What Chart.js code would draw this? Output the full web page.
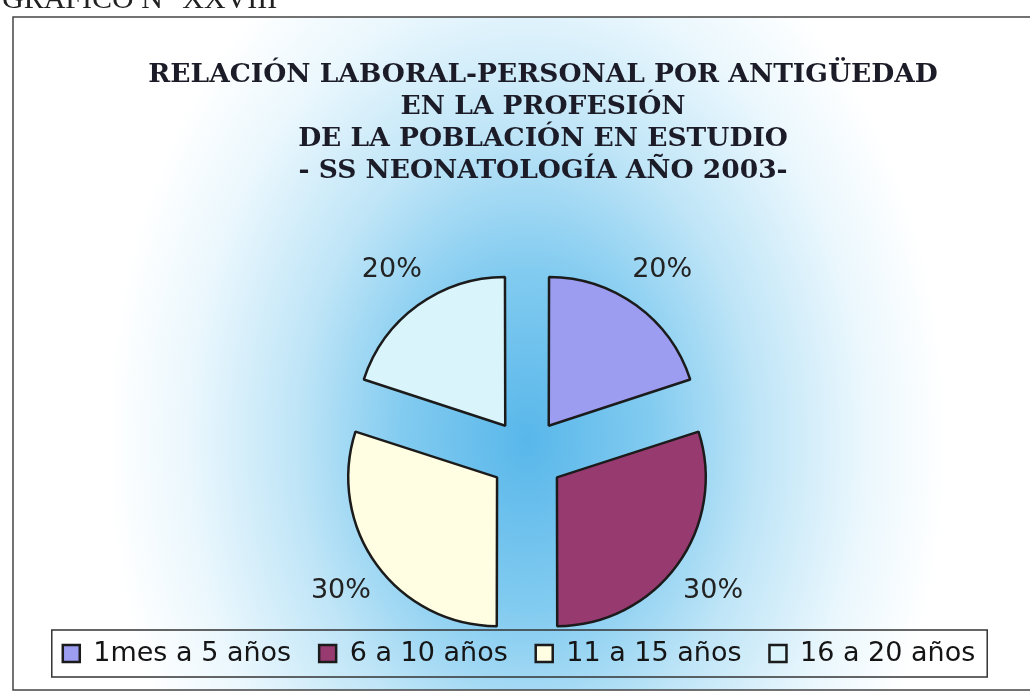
<!DOCTYPE html>
<html lang="es">
<head>
    <meta charset="UTF-8">
    <title>Relación laboral-personal por antigüedad</title>
    <script src="https://cdn.jsdelivr.net/npm/chart.js"></script>
    <style>
        body { margin: 0; background: #fff; }
        #pie-chart { display: block; }
    </style>
</head>
<body>
    <canvas id="pie-chart" width="1030" height="694"></canvas>

    <script>
        // data
        const figureLabel = 'GRÁFICO N° XXVIII';
        const titleLines = [
            'RELACIÓN LABORAL-PERSONAL POR ANTIGÜEDAD',
            'EN LA PROFESIÓN',
            'DE LA POBLACIÓN EN ESTUDIO',
            '- SS NEONATOLOGÍA AÑO 2003-'
        ];
        const categories = ['1mes a 5 años', '6 a 10 años', '11 a 15 años', '16 a 20 años'];
        const values = [20, 30, 30, 20];
        const sliceColors = ['#9c9cf0', '#973a70', '#fffee2', '#d9f4fb'];

        // Chart.js v4 moves an arc by offset / 4, so 148 gives ~37px
        const SLICE_OFFSET = 148;

        // framed box with the blue glow behind the pie
        const backdrop = {
            id: 'backdrop',
            beforeDraw(chart) {
                const ctx = chart.ctx;
                ctx.save();
                ctx.fillStyle = '#ffffff';
                ctx.fillRect(0, 0, chart.width, chart.height);

                ctx.save();
                ctx.beginPath();
                ctx.rect(13, 17, 1030, 673);
                ctx.clip();
                ctx.translate(527, 440);
                ctx.scale(1, 1.35);
                const g = ctx.createRadialGradient(0, 0, 0, 0, 0, 420);
                g.addColorStop(0, '#58b7ea');
                g.addColorStop(0.3, '#82cbf0');
                g.addColorStop(0.55, '#bfe5f7');
                g.addColorStop(0.8, '#eaf7fd');
                g.addColorStop(1, '#ffffff');
                ctx.fillStyle = g;
                ctx.fillRect(-600, -420, 1200, 840);
                ctx.restore();

                ctx.strokeStyle = '#444';
                ctx.lineWidth = 1.5;
                ctx.strokeRect(13, 17, 1040, 673);

                ctx.fillStyle = '#222';
                ctx.font = '30px "Liberation Serif"';
                ctx.textBaseline = 'alphabetic';
                ctx.fillText(figureLabel, 2, 8);
                ctx.restore();
            }
        };

        // nudge title and legend to where the scan has them
        const nudge = {
            id: 'nudge',
            afterLayout(chart) {
                chart.legend.left -= 8;
                chart.legend.right -= 8;
                chart.titleBlock.left += 16;
                chart.titleBlock.right += 16;
            }
        };

        // percentage labels outside each slice
        const pctLabels = {
            id: 'pctLabels',
            afterDatasetsDraw(chart) {
                const ctx = chart.ctx;
                const total = values.reduce((a, b) => a + b, 0);
                ctx.save();
                ctx.font = '27px "DejaVu Sans"';
                ctx.fillStyle = '#222';
                ctx.textAlign = 'center';
                ctx.textBaseline = 'middle';
                chart.getDatasetMeta(0).data.forEach((arc, i) => {
                    const p = arc.getProps(['x', 'y', 'startAngle', 'endAngle', 'outerRadius'], true);
                    const mid = (p.startAngle + p.endAngle) / 2;
                    const d = p.outerRadius + arc.options.offset / 4 + 46;
                    ctx.fillText(Math.round(values[i] / total * 100) + '%',
                        p.x + Math.cos(mid) * d, p.y + Math.sin(mid) * d);
                });
                ctx.restore();
            }
        };

        // thin frame round the legend items
        const legendFrame = {
            id: 'legendFrame',
            afterDraw(chart) {
                const boxes = chart.legend.legendHitBoxes;
                if (!boxes || !boxes.length) return;
                const first = boxes[0], last = boxes[boxes.length - 1];
                const ctx = chart.ctx;
                ctx.save();
                ctx.strokeStyle = '#333';
                ctx.lineWidth = 1.5;
                ctx.strokeRect(first.left - 11, first.top - 10,
                    last.left + last.width + 12 - (first.left - 11), first.height + 20);
                ctx.restore();
            }
        };

        const ctx = document.getElementById('pie-chart').getContext('2d');
        new Chart(ctx, {
            type: 'pie',
            data: {
                labels: categories,
                datasets: [{
                    data: values,
                    backgroundColor: sliceColors,
                    borderColor: '#1b1b1b',
                    borderWidth: 2.5,
                    offset: SLICE_OFFSET,
                    hoverOffset: 0,
                    clip: false
                }]
            },
            options: {
                responsive: false,
                animation: false,
                radius: 147,
                layout: { padding: { top: 59, left: 24, right: 0, bottom: 17 } },
                plugins: {
                    title: {
                        display: true,
                        text: titleLines,
                        color: '#1c1c28',
                        font: { family: '"DejaVu Serif"', size: 26.5, weight: 'bold', lineHeight: 1.21 },
                        padding: { top: 0, bottom: 112 }
                    },
                    legend: {
                        position: 'bottom',
                        labels: {
                            color: '#151515',
                            font: { family: '"DejaVu Sans"', size: 27 },
                            boxWidth: 17,
                            boxHeight: 17,
                            padding: 28
                        }
                    },
                    tooltip: { enabled: false }
                }
            },
            plugins: [backdrop, nudge, pctLabels, legendFrame]
        });
    </script>
</body>
</html>
